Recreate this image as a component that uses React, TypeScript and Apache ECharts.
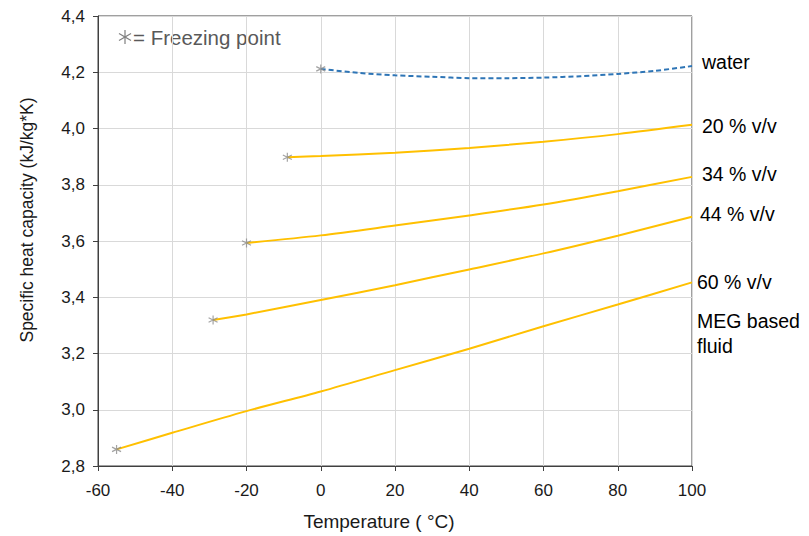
import React, { useEffect, useRef } from "react";
import * as echarts from "echarts";

const xTicks = [-60, -40, -20, 0, 20, 40, 60, 80, 100];
const yTickLabels = ["2,8", "3,0", "3,2", "3,4", "3,6", "3,8", "4,0", "4,2", "4,4"];

const waterT = [0, 10, 20, 30, 40, 50, 60, 70, 80, 90, 100];
const waterCp = [4.212, 4.198, 4.189, 4.184, 4.179, 4.179, 4.181, 4.186, 4.194, 4.205, 4.222];

const meg20T = [-9, 0, 20, 40, 60, 80, 100];
const meg20Cp = [3.898, 3.902, 3.914, 3.931, 3.953, 3.98, 4.013];

const meg34T = [-20, 0, 20, 40, 60, 80, 100];
const meg34Cp = [3.593, 3.62, 3.655, 3.691, 3.73, 3.777, 3.828];

const meg44T = [-29, -20, 0, 20, 40, 60, 80, 100];
const meg44Cp = [3.319, 3.339, 3.39, 3.443, 3.499, 3.556, 3.619, 3.686];

const meg60T = [-55, -40, -20, 0, 20, 40, 60, 80, 100];
const meg60Cp = [2.859, 2.918, 2.995, 3.065, 3.141, 3.217, 3.297, 3.374, 3.453];

const seriesNames = ["water", "20 % v/v", "34 % v/v", "44 % v/v", "60 % v/v"];
const extraLabel = "MEG based\nfluid";
const legendText = "= Freezing point";
const xTitle = "Temperature ( °C)";
const yTitle = "Specific heat capacity (kJ/kg*K)";

const FONT = "Liberation Sans, Arial, sans-serif";

function pairs(t: number[], v: number[]) {
  return t.map((x, i) => [x, v[i]]);
}

export default function App() {
  const ref = useRef<HTMLDivElement>(null);
  useEffect(() => {
    if (!ref.current) return;
    const chart = echarts.init(ref.current, undefined, { renderer: "svg" });
    const allT = [waterT, meg20T, meg34T, meg44T, meg60T];
    const allV = [waterCp, meg20Cp, meg34Cp, meg44Cp, meg60Cp];
    const labelOffsets = [[0, -4], [0, 1], [0, -3], [0, -3], [0, 0]];
    const labelDist = [10, 10, 10, 8, 5];
    const lineSeries = allT.map((t, i) => ({
      type: "line",
      name: seriesNames[i],
      data: pairs(t, allV[i]),
      smooth: 0.3,
      symbol: "none",
      lineStyle: i === 0
        ? { color: "#2e75b6", width: 2, type: [5, 3] }
        : { color: "#ffc000", width: 2 },
      endLabel: {
        show: true,
        formatter: seriesNames[i],
        color: "#000",
        fontSize: 19.5,
        fontFamily: FONT,
        distance: labelDist[i],
        offset: labelOffsets[i],
      },
      z: 2,
    }));
    const freeze = allT.map((t, i) => [t[0], allV[i][0]]);
    const asterisk = "path://M0,-5L0,5M-4.33,-2.5L4.33,2.5M-4.33,2.5L4.33,-2.5";
    const gray = { stroke: "#7f7f7f", lineWidth: 1.2 };
    chart.setOption({
      animation: false,
      grid: {
        left: 98, right: 117, top: 16, bottom: 70,
        show: true, borderColor: "#404040", borderWidth: 1,
      },
      xAxis: {
        type: "value",
        min: -60, max: 100, interval: 20,
        axisLine: { show: true, onZero: false, lineStyle: { color: "#404040", width: 1 } },
        axisTick: { show: true, length: 5, lineStyle: { color: "#404040" } },
        axisLabel: {
          color: "#1a1a1a", fontSize: 17, fontFamily: FONT, margin: 16,
          formatter: (v: number) => (xTicks.includes(v) ? String(v) : ""),
        },
        splitLine: { show: true, lineStyle: { color: "#d9d9d9", width: 1 } },
      },
      yAxis: {
        type: "value",
        min: 2.8, max: 4.4, interval: 0.2,
        axisLine: { show: true, onZero: false, lineStyle: { color: "#404040", width: 1 } },
        axisTick: { show: true, length: 5, lineStyle: { color: "#404040" } },
        axisLabel: {
          color: "#1a1a1a", fontSize: 17, fontFamily: FONT, margin: 13,
          formatter: (v: number) => yTickLabels[Math.round((v - 2.8) / 0.2)] ?? "",
        },
        splitLine: { show: true, lineStyle: { color: "#d9d9d9", width: 1 } },
      },
      series: [
        ...lineSeries,
        {
          type: "scatter",
          data: freeze,
          symbol: asterisk,
          symbolSize: 9,
          itemStyle: { color: "none", borderColor: "#8c8c8c", borderWidth: 1.2 },
          z: 3,
        },
      ],
      graphic: [
        {
          type: "group",
          x: 118, y: 30,
          children: [
            { type: "line", shape: { x1: 7, y1: 0, x2: 7, y2: 14 }, style: gray },
            { type: "line", shape: { x1: 1, y1: 3.5, x2: 13, y2: 10.5 }, style: gray },
            { type: "line", shape: { x1: 1, y1: 10.5, x2: 13, y2: 3.5 }, style: gray },
          ],
        },
        {
          type: "text", x: 133, y: 37,
          style: { text: legendText, fill: "#595959", fontSize: 20.5, fontFamily: FONT, verticalAlign: "middle" },
        },
        {
          type: "text", x: 697, y: 308,
          style: { text: extraLabel, fill: "#000", fontSize: 19.5, fontFamily: FONT, lineHeight: 25 },
        },
        {
          type: "text", x: 379, y: 521,
          style: { text: xTitle, fill: "#1a1a1a", fontSize: 19, fontFamily: FONT, align: "center", verticalAlign: "middle" },
        },
        {
          type: "text", x: 27, y: 220, rotation: Math.PI / 2,
          style: { text: yTitle, fill: "#1a1a1a", fontSize: 17.5, fontFamily: FONT, align: "center", verticalAlign: "middle" },
        },
      ],
    });
    return () => chart.dispose();
  }, []);
  return <div ref={ref} style={{ position: "absolute", left: 0, top: 0, width: 809, height: 536 }} />;
}
